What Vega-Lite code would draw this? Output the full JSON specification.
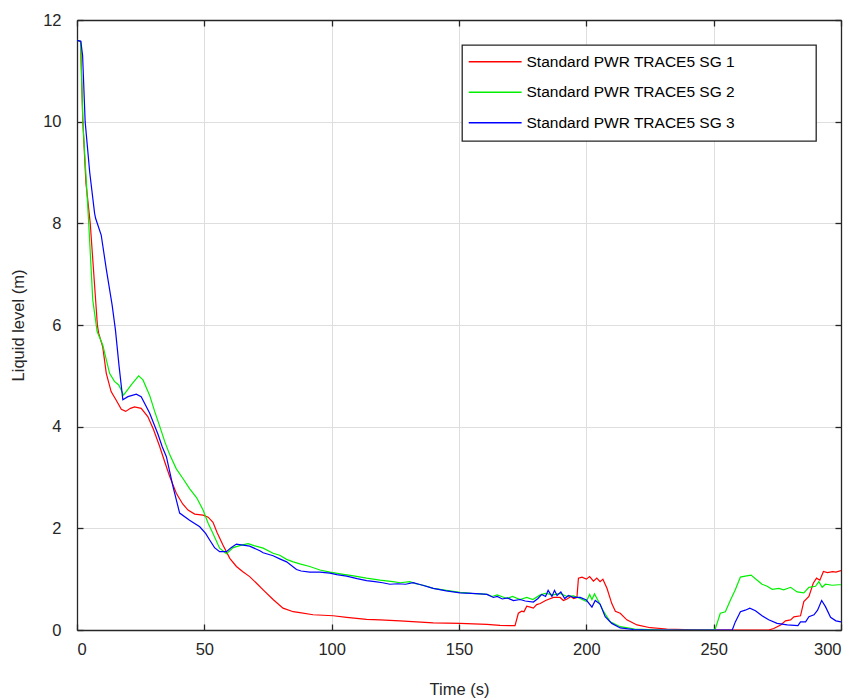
{
  "$schema": "https://vega.github.io/schema/vega-lite/v6.json",
  "width": 764,
  "height": 610,
  "autosize": {"type": "none"},
  "padding": {"left": 77, "top": 20, "right": 10, "bottom": 68},
  "background": "white",
  "datasets": {
    "sg1": [
      {"t":0,"y":11.6},{"t":1.4,"y":11.58},{"t":2.3,"y":10.0},{"t":3.5,"y":8.8},{"t":5.2,"y":8.0},{"t":8.0,"y":6.0},{"t":8.5,"y":5.84},{"t":10.1,"y":5.57},{"t":11.5,"y":5.05},{"t":13.4,"y":4.69},{"t":15.4,"y":4.52},{"t":17.4,"y":4.34},{"t":19.1,"y":4.3},{"t":21,"y":4.36},{"t":22.6,"y":4.39},{"t":25.2,"y":4.36},{"t":27.8,"y":4.2},{"t":30,"y":3.95},{"t":32.4,"y":3.62},{"t":34.5,"y":3.3},{"t":36.4,"y":3.02},{"t":39,"y":2.69},{"t":41.5,"y":2.48},{"t":43.6,"y":2.36},{"t":46.2,"y":2.28},{"t":49.5,"y":2.26},{"t":51.5,"y":2.22},{"t":53.4,"y":2.12},{"t":55,"y":1.92},{"t":57.3,"y":1.67},{"t":60,"y":1.41},{"t":62.6,"y":1.25},{"t":65,"y":1.15},{"t":67.8,"y":1.05},{"t":70.5,"y":0.92},{"t":73.1,"y":0.79},{"t":77,"y":0.6},{"t":80.9,"y":0.43},{"t":84.9,"y":0.36},{"t":87.5,"y":0.34},{"t":92.7,"y":0.3},{"t":100.6,"y":0.28},{"t":105.9,"y":0.25},{"t":113.7,"y":0.21},{"t":119,"y":0.2},{"t":126.8,"y":0.18},{"t":139.9,"y":0.14},{"t":150.4,"y":0.13},{"t":160.9,"y":0.11},{"t":166.1,"y":0.09},{"t":172,"y":0.085},{"t":173.3,"y":0.33},{"t":174.6,"y":0.37},{"t":175.5,"y":0.36},{"t":176.6,"y":0.47},{"t":178,"y":0.45},{"t":179.2,"y":0.43},{"t":180.5,"y":0.5},{"t":181.9,"y":0.52},{"t":184,"y":0.58},{"t":187.1,"y":0.64},{"t":189.7,"y":0.64},{"t":191,"y":0.58},{"t":192.4,"y":0.61},{"t":194,"y":0.66},{"t":195,"y":0.62},{"t":196.3,"y":0.64},{"t":196.9,"y":1.02},{"t":198.3,"y":1.04},{"t":200,"y":1.0},{"t":201.3,"y":1.05},{"t":202.8,"y":0.96},{"t":204.1,"y":1.02},{"t":205.4,"y":0.95},{"t":206.5,"y":1.0},{"t":208.1,"y":0.82},{"t":210,"y":0.52},{"t":211.4,"y":0.37},{"t":213.3,"y":0.33},{"t":215.9,"y":0.2},{"t":219.9,"y":0.1},{"t":225.1,"y":0.045},{"t":231.6,"y":0.02},{"t":242,"y":0.005},{"t":250,"y":0},{"t":271.6,"y":0},{"t":273.6,"y":0.03},{"t":276.3,"y":0.1},{"t":278.2,"y":0.18},{"t":280.2,"y":0.2},{"t":281.5,"y":0.26},{"t":284.1,"y":0.28},{"t":285.4,"y":0.56},{"t":287.4,"y":0.66},{"t":289.1,"y":0.92},{"t":290.4,"y":1.02},{"t":291.7,"y":0.98},{"t":293.1,"y":1.15},{"t":294.7,"y":1.13},{"t":296.7,"y":1.15},{"t":298,"y":1.14},{"t":300,"y":1.17}
    ],
    "sg2": [
      {"t":0,"y":11.6},{"t":1.4,"y":11.58},{"t":2.3,"y":10.0},{"t":4.6,"y":8.0},{"t":6.2,"y":6.49},{"t":7.9,"y":5.87},{"t":10.1,"y":5.61},{"t":12.8,"y":5.05},{"t":14.7,"y":4.89},{"t":16.4,"y":4.82},{"t":18.3,"y":4.62},{"t":21.3,"y":4.82},{"t":24.2,"y":5.0},{"t":25.9,"y":4.92},{"t":28.5,"y":4.62},{"t":30.5,"y":4.3},{"t":32.4,"y":4.02},{"t":34.5,"y":3.7},{"t":36.4,"y":3.45},{"t":39,"y":3.17},{"t":41.6,"y":2.98},{"t":44.2,"y":2.78},{"t":47,"y":2.6},{"t":49.5,"y":2.36},{"t":51.5,"y":2.1},{"t":53.4,"y":1.9},{"t":56,"y":1.61},{"t":58.7,"y":1.5},{"t":61.3,"y":1.62},{"t":64.6,"y":1.67},{"t":67.2,"y":1.7},{"t":69.5,"y":1.66},{"t":73.1,"y":1.61},{"t":77,"y":1.51},{"t":79.6,"y":1.47},{"t":82.3,"y":1.39},{"t":84.9,"y":1.34},{"t":87.5,"y":1.3},{"t":91.4,"y":1.25},{"t":95.4,"y":1.18},{"t":99.3,"y":1.14},{"t":104,"y":1.1},{"t":108,"y":1.07},{"t":113.7,"y":1.02},{"t":119,"y":0.98},{"t":124,"y":0.95},{"t":127,"y":0.93},{"t":130.7,"y":0.95},{"t":133,"y":0.91},{"t":136,"y":0.88},{"t":139.9,"y":0.82},{"t":145,"y":0.78},{"t":150.4,"y":0.74},{"t":155,"y":0.72},{"t":158.3,"y":0.71},{"t":161,"y":0.7},{"t":163,"y":0.66},{"t":165,"y":0.69},{"t":168.8,"y":0.62},{"t":171,"y":0.66},{"t":174,"y":0.6},{"t":176.6,"y":0.64},{"t":179,"y":0.6},{"t":181.9,"y":0.69},{"t":184,"y":0.72},{"t":187.1,"y":0.69},{"t":189.7,"y":0.72},{"t":192.4,"y":0.66},{"t":195,"y":0.67},{"t":197.6,"y":0.62},{"t":200,"y":0.56},{"t":201.3,"y":0.7},{"t":202.2,"y":0.6},{"t":203.2,"y":0.71},{"t":204.8,"y":0.56},{"t":206.8,"y":0.36},{"t":209.4,"y":0.16},{"t":213.3,"y":0.065},{"t":219,"y":0.02},{"t":230,"y":0},{"t":250,"y":0},{"t":250.7,"y":0.03},{"t":252.6,"y":0.33},{"t":254.6,"y":0.36},{"t":256.6,"y":0.59},{"t":258.5,"y":0.79},{"t":260.5,"y":1.04},{"t":262.4,"y":1.06},{"t":264.7,"y":1.08},{"t":267.1,"y":0.98},{"t":269,"y":0.9},{"t":271,"y":0.86},{"t":273,"y":0.8},{"t":275.6,"y":0.82},{"t":277.5,"y":0.79},{"t":280.2,"y":0.84},{"t":282.8,"y":0.75},{"t":285.4,"y":0.73},{"t":287.4,"y":0.84},{"t":290,"y":0.86},{"t":291.3,"y":0.95},{"t":292.6,"y":0.84},{"t":293.9,"y":0.9},{"t":296.5,"y":0.88},{"t":299.2,"y":0.89},{"t":300,"y":0.89}
    ],
    "sg3": [
      {"t":0,"y":11.6},{"t":1.5,"y":11.58},{"t":2.2,"y":11.3},{"t":3.2,"y":10.0},{"t":5,"y":9.0},{"t":6.9,"y":8.2},{"t":7.3,"y":8.1},{"t":9.5,"y":7.77},{"t":11.5,"y":7.1},{"t":13.8,"y":6.39},{"t":15.1,"y":5.9},{"t":16.5,"y":5.2},{"t":18,"y":4.53},{"t":20,"y":4.59},{"t":23.3,"y":4.64},{"t":25.2,"y":4.59},{"t":28.5,"y":4.27},{"t":31.8,"y":3.85},{"t":33.5,"y":3.6},{"t":35.1,"y":3.41},{"t":37.7,"y":2.82},{"t":40.3,"y":2.3},{"t":44.2,"y":2.16},{"t":48.2,"y":2.03},{"t":50.5,"y":1.9},{"t":52.1,"y":1.77},{"t":54,"y":1.62},{"t":56,"y":1.54},{"t":58.7,"y":1.54},{"t":60.5,"y":1.62},{"t":62.6,"y":1.69},{"t":67.8,"y":1.65},{"t":71.8,"y":1.56},{"t":73.1,"y":1.52},{"t":77,"y":1.46},{"t":79.6,"y":1.4},{"t":82.3,"y":1.34},{"t":86.2,"y":1.19},{"t":88,"y":1.16},{"t":91.4,"y":1.14},{"t":95.4,"y":1.14},{"t":99.3,"y":1.12},{"t":102,"y":1.09},{"t":105.9,"y":1.06},{"t":110,"y":1.01},{"t":113.7,"y":0.97},{"t":117,"y":0.95},{"t":120,"y":0.93},{"t":122.9,"y":0.9},{"t":126,"y":0.91},{"t":129,"y":0.9},{"t":132,"y":0.93},{"t":135,"y":0.89},{"t":139.9,"y":0.82},{"t":145,"y":0.77},{"t":150.4,"y":0.73},{"t":155,"y":0.72},{"t":158.3,"y":0.71},{"t":161,"y":0.7},{"t":163.5,"y":0.64},{"t":165,"y":0.66},{"t":167,"y":0.61},{"t":169,"y":0.63},{"t":171.4,"y":0.58},{"t":174,"y":0.6},{"t":176,"y":0.57},{"t":179.2,"y":0.55},{"t":181,"y":0.62},{"t":182.5,"y":0.7},{"t":184,"y":0.66},{"t":185,"y":0.78},{"t":186.5,"y":0.66},{"t":187.5,"y":0.78},{"t":188.5,"y":0.68},{"t":190,"y":0.75},{"t":191.5,"y":0.62},{"t":193,"y":0.68},{"t":195,"y":0.64},{"t":197.6,"y":0.64},{"t":200,"y":0.59},{"t":202.2,"y":0.45},{"t":203.5,"y":0.58},{"t":205.4,"y":0.51},{"t":207.4,"y":0.26},{"t":210,"y":0.13},{"t":213.3,"y":0.04},{"t":218.5,"y":0.01},{"t":225,"y":0},{"t":257.3,"y":0},{"t":258.5,"y":0.16},{"t":260.5,"y":0.36},{"t":262.4,"y":0.39},{"t":264.2,"y":0.43},{"t":266.4,"y":0.38},{"t":269,"y":0.28},{"t":271.6,"y":0.2},{"t":274.9,"y":0.13},{"t":278.9,"y":0.1},{"t":283.1,"y":0.085},{"t":284.1,"y":0.16},{"t":286.1,"y":0.16},{"t":287.4,"y":0.26},{"t":289.4,"y":0.3},{"t":290.8,"y":0.39},{"t":292.4,"y":0.58},{"t":293.9,"y":0.46},{"t":295.9,"y":0.25},{"t":298,"y":0.18},{"t":300,"y":0.16}
    ]
  },
  "layer": [
    {
      "data": {"name": "sg1"},
      "transform": [{"calculate": "'Standard PWR TRACE5 SG 1'", "as": "series"}],
      "mark": {"type": "line", "strokeWidth": 1.2, "clip": true},
      "encoding": {
        "x": {"field": "t", "type": "quantitative", "scale": {"domain": [0, 300], "nice": false},
          "axis": {"title": "Time (s)", "values": [0, 50, 100, 150, 200, 250, 300], "grid": true}},
        "y": {"field": "y", "type": "quantitative", "scale": {"domain": [0, 12], "nice": false},
          "axis": {"title": "Liquid level (m)", "values": [0, 2, 4, 6, 8, 10, 12], "grid": true}},
        "color": {"field": "series", "type": "nominal",
          "scale": {"domain": ["Standard PWR TRACE5 SG 1", "Standard PWR TRACE5 SG 2", "Standard PWR TRACE5 SG 3"], "range": ["#ff0000", "#00f000", "#0000ff"]},
          "legend": {"title": null, "orient": "none", "legendX": 385, "legendY": 25,
            "labelExpr": "datum.label + '\u2800\u2800\u2800\u2800\u2800\u2800'"}}
      }
    },
    {
      "data": {"name": "sg2"},
      "transform": [{"calculate": "'Standard PWR TRACE5 SG 2'", "as": "series"}],
      "mark": {"type": "line", "strokeWidth": 1.2, "clip": true},
      "encoding": {
        "x": {"field": "t", "type": "quantitative", "axis": null},
        "y": {"field": "y", "type": "quantitative", "axis": null},
        "color": {"field": "series", "type": "nominal"}
      }
    },
    {
      "data": {"name": "sg3"},
      "transform": [{"calculate": "'Standard PWR TRACE5 SG 3'", "as": "series"}],
      "mark": {"type": "line", "strokeWidth": 1.2, "clip": true},
      "encoding": {
        "x": {"field": "t", "type": "quantitative", "axis": null},
        "y": {"field": "y", "type": "quantitative", "axis": null},
        "color": {"field": "series", "type": "nominal"}
      }
    },
    {
      "data": {"name": "sg3"},
      "mark": {"type": "point", "opacity": 0},
      "encoding": {
        "x": {"field": "t", "type": "quantitative",
          "axis": {"orient": "top", "title": null, "labels": false, "grid": false, "values": [0, 50, 100, 150, 200, 250, 300]}},
        "y": {"field": "y", "type": "quantitative",
          "axis": {"orient": "right", "title": null, "labels": false, "grid": false, "values": [0, 2, 4, 6, 8, 10, 12]}}
      }
    }
  ],
  "resolve": {"axis": {"x": "independent", "y": "independent"}},
  "config": {
    "view": {"stroke": "#262626", "strokeWidth": 1},
    "font": "Liberation Sans",
    "axis": {
      "domainColor": "#262626",
      "domainWidth": 1.3,
      "tickColor": "#262626",
      "tickSize": -6,
      "tickWidth": 1.3,
      "gridColor": "#dedede",
      "gridWidth": 1,
      "labelFont": "Liberation Sans",
      "labelFontSize": 16.5,
      "labelColor": "#262626",
      "titleFont": "Liberation Sans",
      "titleFontSize": 16.5,
      "titleFontWeight": "normal",
      "titleColor": "#262626"
    },
    "axisX": {"labelPadding": 17, "titlePadding": 24},
    "axisY": {"labelPadding": 22, "titlePadding": 16},
    "legend": {
      "symbolType": "M-1.89,0H8.1",
      "symbolSize": 112,
      "symbolStrokeWidth": 1.3,
      "labelOffset": 40,
      "labelFont": "Liberation Sans",
      "labelFontSize": 15.5,
      "labelColor": "#000000",
      "labelLimit": 0,
      "padding": 9,
      "rowPadding": 13.5,
      "fillColor": "white",
      "strokeColor": "#262626",
      "strokeWidth": 1.3
    }
  }
}
